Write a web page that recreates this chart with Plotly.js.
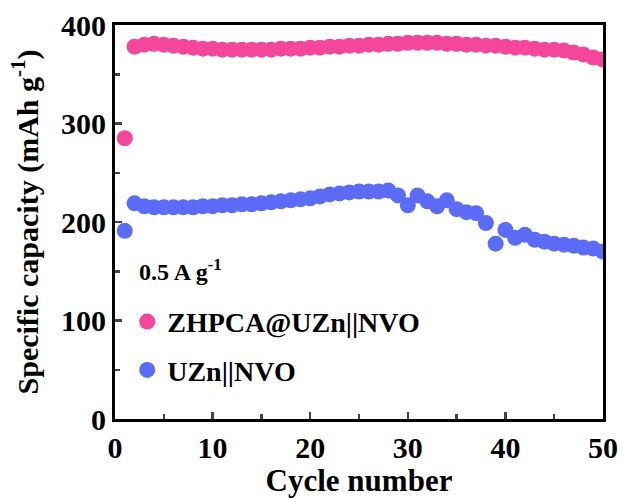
<!DOCTYPE html>
<html>
<head>
<meta charset="utf-8">
<script src="https://cdn.plot.ly/plotly-3.0.1.min.js"></script>
<style>html,body{margin:0;padding:0;background:#fff;}#chart{width:625px;height:498px;}</style>
</head>
<body>
<div id="chart"></div>
<script>
const cycles = [1,2,3,4,5,6,7,8,9,10,11,12,13,14,15,16,17,18,19,20,21,22,23,24,25,26,27,28,29,30,31,32,33,34,35,36,37,38,39,40,41,42,43,44,45,46,47,48,49,50];
const zhpcaCapacity = [285,378,380,381,380,379,378,377,376,376,375,375,375,375,375,375,376,376,376,377,377,378,378,379,379,380,380,381,381,382,382,382,382,381,381,380,380,379,379,378,377,377,376,375,375,374,372,370,367,365];
const uznCapacity = [191,219,216,215,215,215,215,215,216,216,217,217,218,218,219,220,221,222,223,224,226,228,229,230,231,231,231,232,227,217,227,221,216,222,213,210,209,199,178,192,184,187,182,180,178,177,176,174,173,170];
const seriesNames = ["ZHPCA@UZn||NVO", "UZn||NVO"];
const xTickVals = [0,10,20,30,40,50];
const yTickVals = [0,100,200,300,400];

const fontFam = '"Liberation Serif", "Times New Roman", serif';
const pink = '#F4479C';
const blue = '#5C6CF6';

const traces = [
  {x: cycles, y: zhpcaCapacity, name: seriesNames[0], type: 'scatter', mode: 'markers',
   legendgroup: 'a', marker: {color: pink, size: 16}, cliponaxis: true},
  {x: cycles, y: uznCapacity, name: seriesNames[1], type: 'scatter', mode: 'markers',
   legendgroup: 'b', marker: {color: blue, size: 16}, cliponaxis: true}
];

const layout = {
  width: 625, height: 498,
  margin: {l: 115, r: 22, t: 25, b: 79},
  paper_bgcolor: '#fff', plot_bgcolor: '#fff',
  font: {family: fontFam, color: '#000'},
  showlegend: true,
  legend: {x: 0.025, y: 0.31, xanchor: 'left', yanchor: 'top', bgcolor: 'rgba(0,0,0,0)',
           font: {family: fontFam, size: 28, color: '#000', weight: 'bold'},
           tracegroupgap: 9, itemwidth: 30},
  xaxis: {
    range: [0, 50], tickvals: xTickVals, ticks: 'inside', ticklen: 7, tickwidth: 2.5,
    showline: true, linewidth: 3, linecolor: '#000', mirror: true, showgrid: false, zeroline: false,
    minor: {dtick: 5, ticks: 'inside', ticklen: 5, tickwidth: 2.5, showgrid: false},
    tickfont: {family: fontFam, size: 30, weight: 'bold'},
    title: {text: 'Cycle number', font: {family: fontFam, size: 31, weight: 'bold'}, standoff: 0}
  },
  yaxis: {
    range: [0, 400], tickvals: yTickVals, ticks: 'inside', ticklen: 7, tickwidth: 2.5,
    showline: true, linewidth: 3, linecolor: '#000', mirror: true, showgrid: false, zeroline: false,
    minor: {dtick: 50, ticks: 'inside', ticklen: 5, tickwidth: 2.5, showgrid: false},
    tickfont: {family: fontFam, size: 30, weight: 'bold'},
    title: {text: 'Specific capacity (mAh g<sup>-1</sup>)', font: {family: fontFam, size: 30, weight: 'bold'}, standoff: 14}
  },
  annotations: [
    {xref: 'paper', yref: 'paper', x: 0.045, y: 0.378, xanchor: 'left', yanchor: 'middle',
     text: '0.5 A g<sup>-1</sup>', showarrow: false,
     font: {family: fontFam, size: 24, weight: 'bold', color: '#000'}}
  ]
};

Plotly.newPlot('chart', traces, layout, {displayModeBar: false, staticPlot: true});
</script>
</body>
</html>
